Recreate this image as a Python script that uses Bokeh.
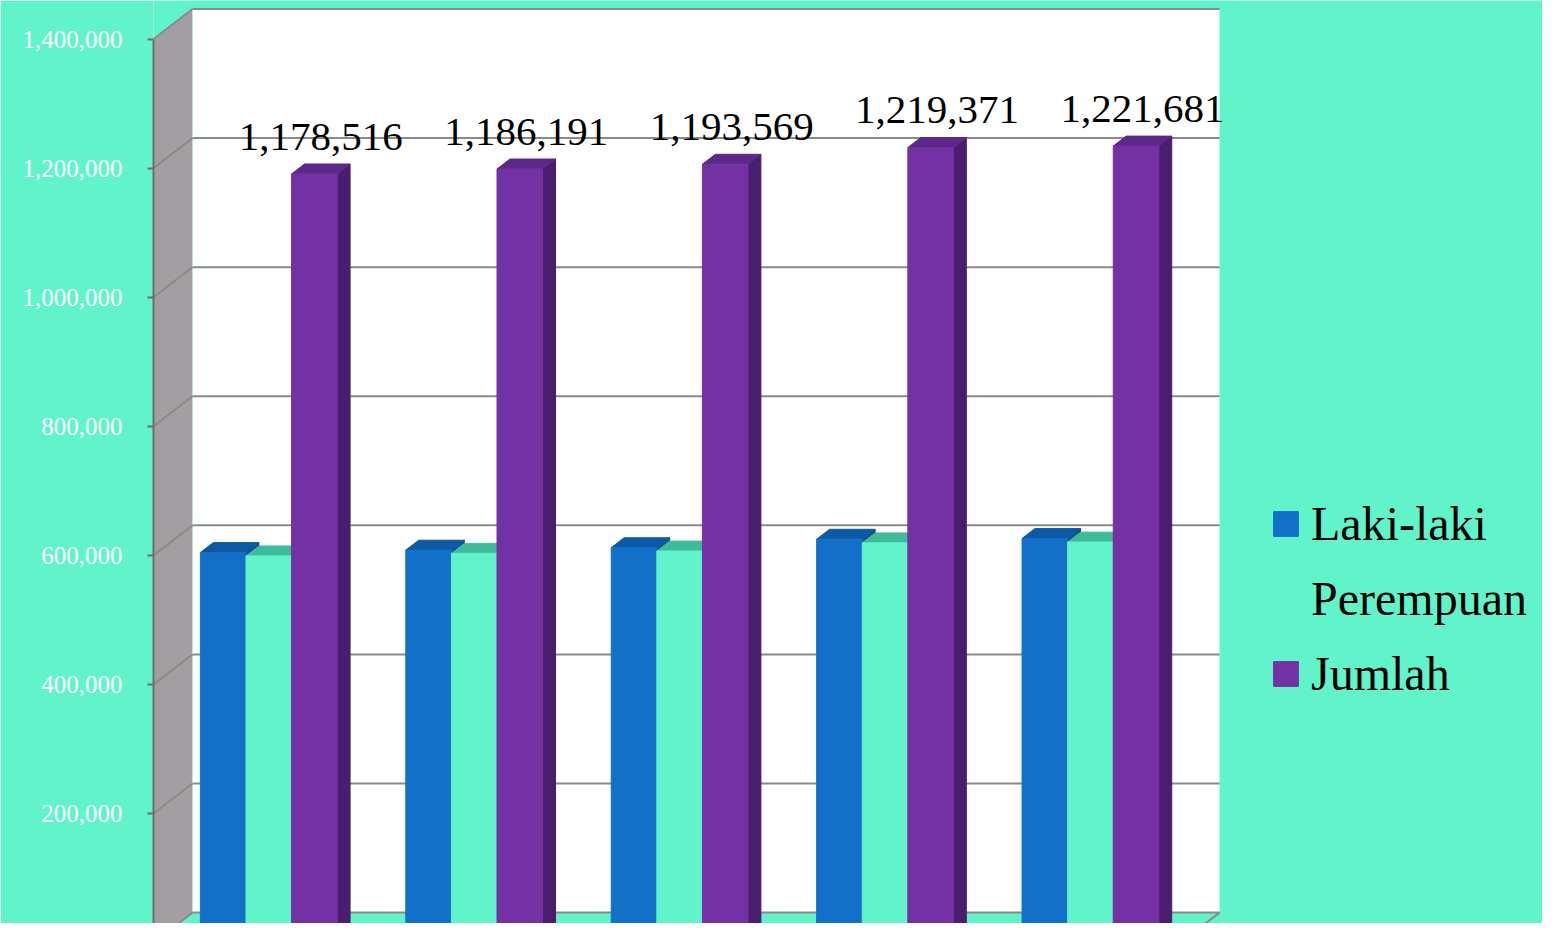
from bokeh.plotting import figure
from bokeh.models import Range1d, FixedTicker, NumeralTickFormatter, Legend, LegendItem, ColumnDataSource
from bokeh.embed import file_html
from bokeh.resources import INLINE
from bokeh.core.properties import value

# ---------------- data ----------------
categories = ["1", "2", "3", "4", "5"]          # category labels are not shown in the chart
series = ["Laki-laki", "Perempuan", "Jumlah"]
laki_laki = [591900, 595600, 599400, 612500, 613600]
perempuan = [586616, 590591, 594169, 606871, 608081]
jumlah = [1178516, 1186191, 1193569, 1219371, 1221681]
y_ticks = [200000, 400000, 600000, 800000, 1000000, 1200000, 1400000]
y_max = 1400000

# ---------------- style ----------------
BG = "#61F3C9"
WALL = "#A39EA2"
GRID = "#8A8A8A"
front_colors = ["#1270C8", BG, "#7431A3"]
top_colors = ["#0C5AA6", "#3DBB9B", "#5C2889"]
side_colors = ["#0A4E90", "#38A98A", "#4B1D6E"]
FONT = "Liberation Serif"

DX = 0.19        # depth offset (x, category units)
DY = 46500       # depth offset (y, value units)
F0, F1 = 0.27, 0.60   # bar depth start / end (fraction of depth)
BW = 0.222       # bar width
GC = 0.51        # group centre offset
LABEL_GAP = 42000

p = figure(width=1542, height=923, output_backend="svg", toolbar_location=None,
           x_range=Range1d(0, 6.762), y_range=Range1d(29600, 1459700),
           min_border_left=153, min_border_right=0, min_border_top=0, min_border_bottom=0)
p.background_fill_color = BG
p.border_fill_color = BG
p.outline_line_color = None
p.xaxis.visible = False
p.xgrid.visible = False
p.ygrid.visible = False

# walls
n = len(categories)
p.patch([0, 0, DX, DX], [0, y_max, y_max + DY, DY], fill_color=WALL, line_color=None)
p.quad(left=DX, right=n + DX, bottom=DY, top=y_max + DY, fill_color="white", line_color=None)
p.patch([0, n, n + DX, DX], [0, 0, DY, DY], fill_color=BG, line_color=None)

# grid lines on side wall and back wall
gx0, gy0, gx1, gy1 = [], [], [], []
for v in [0] + y_ticks:
    gx0.append(0); gy0.append(v); gx1.append(DX); gy1.append(v + DY)
    gx0.append(DX); gy0.append(v + DY); gx1.append(n + DX); gy1.append(v + DY)
gx0.append(n); gy0.append(0); gx1.append(n + DX); gy1.append(DY)
p.segment(gx0, gy0, gx1, gy1, line_color=GRID, line_width=2)

# 3D bars
xs, ys, cols = [], [], []
legend_index = {}
all_vals = [laki_laki, perempuan, jumlah]
for i in range(n):
    for j in range(3):
        v = all_vals[j][i]
        xl = i + GC + (j - 1.5) * BW
        xr = xl + BW
        # side
        xs.append([xr + F0 * DX, xr + F1 * DX, xr + F1 * DX, xr + F0 * DX])
        ys.append([F0 * DY, F1 * DY, v + F1 * DY, v + F0 * DY])
        cols.append(side_colors[j])
        # top
        xs.append([xl + F0 * DX, xr + F0 * DX, xr + F1 * DX, xl + F1 * DX])
        ys.append([v + F0 * DY, v + F0 * DY, v + F1 * DY, v + F1 * DY])
        cols.append(top_colors[j])
        # front
        xs.append([xl + F0 * DX, xr + F0 * DX, xr + F0 * DX, xl + F0 * DX])
        ys.append([F0 * DY, F0 * DY, v + F0 * DY, v + F0 * DY])
        cols.append(front_colors[j])
        if i == 0:
            legend_index[j] = len(xs) - 1

src = ColumnDataSource(dict(xs=xs, ys=ys, color=cols))
bars = p.patches("xs", "ys", source=src, fill_color="color", line_color="color", line_width=1)

# data labels on Jumlah
lx = [i + GC + 1.5 * BW - BW / 2 + (F0 + F1) / 2 * DX for i in range(n)]
ly = [jumlah[i] + F1 * DY + LABEL_GAP for i in range(n)]
ltxt = [f"{v:,}" for v in jumlah]
p.text(lx, ly, text=ltxt, text_font=value(FONT), text_font_size="41px", text_color="black",
       text_align="center", text_baseline="alphabetic")

# y axis
p.yaxis.bounds = (0, y_max)
p.yaxis.ticker = FixedTicker(ticks=y_ticks)
p.yaxis.formatter = NumeralTickFormatter(format="0,0")
p.yaxis.major_label_text_color = "white"
p.yaxis.major_label_text_font = FONT
p.yaxis.major_label_text_font_size = "25px"
p.yaxis.major_tick_out = 6
p.yaxis.major_tick_in = 0
p.yaxis.minor_tick_line_color = None
p.yaxis.major_tick_line_color = "#7A6868"
p.yaxis.major_tick_line_width = 2
p.yaxis.axis_line_color = "#6E6E6E"
p.yaxis.axis_line_width = 2
p.yaxis.major_label_standoff = 25

# legend
items = [LegendItem(label=series[j], renderers=[bars], index=legend_index[j]) for j in range(3)]
legend = Legend(items=items, location=(1117, 222), orientation="vertical",
                label_text_font=FONT, label_text_font_size="48px", label_text_color="black",
                glyph_width=31, glyph_height=31, label_standoff=10, spacing=20,
                padding=0, margin=0, border_line_color=None, background_fill_alpha=0)
p.add_layout(legend)

html = file_html(p, INLINE)
html = html.replace("<body", '<body style="background-color:%s;"' % BG, 1)
open("out.html", "w").write(html)
